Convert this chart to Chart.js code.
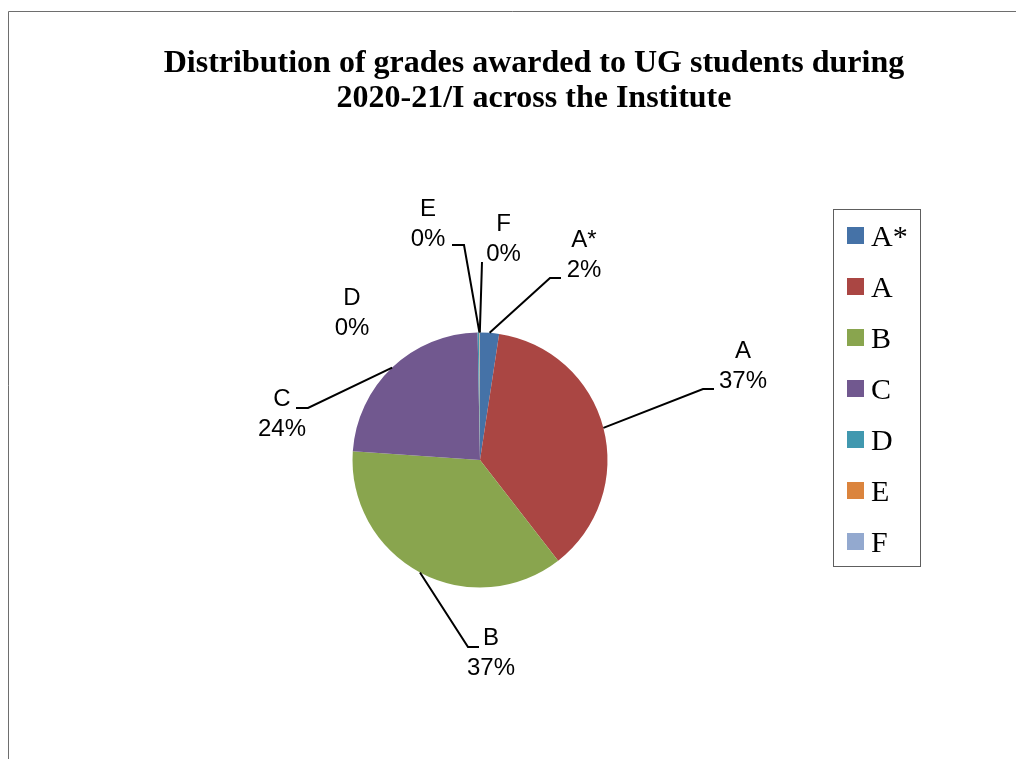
<!DOCTYPE html>
<html>
<head>
<meta charset="utf-8">
<title>Distribution of grades</title>
<script src="https://cdn.jsdelivr.net/npm/chart.js@4.4.0/dist/chart.umd.min.js"></script>
<style>
  html, body { margin: 0; padding: 0; background: #fff; overflow: hidden; }
  canvas { display: block; }
</style>
</head>
<body>
<canvas id="gradeChart" width="1016" height="759"></canvas>
<script>
/** Chart data **/
var titleLines = ['Distribution of grades awarded to UG students during', '2020-21/I across the Institute'];
var grades = ['A*', 'A', 'B', 'C', 'D', 'E', 'F'];
var gradeShares = [2.4, 37.1, 36.6, 23.6, 0.2, 0.06, 0.04];
var gradeColors = ['#4572A7', '#AA4643', '#89A54E', '#71588F', '#4198AF', '#DB843D', '#93A9CF'];

//Where each data label sits, relative to the pie centre:
//[text dx, text dy, leader end dx, leader end dy (from text centre), elbow length]
//null leader means no line is drawn
var labelPlacement = [
	[104, -204.5, -23, 22.5, -11],
	[263, -93.5, -29, 22.5, -11],
	[11, 193, -12, -6, -11],
	[-198, -46, 14, -6, 12],
	[-128, -146.5, null, null, 0],
	[-52, -236, 24, 21, 12],
	[23.5, -221, -21.5, 23, 0]
];

//Frame, title, outside labels and the boxed legend
var decorPlugin = {
	id: 'decor',
	beforeDraw: function(chart) {
		var ctx = chart.ctx;
		ctx.save();
		//only the left and top edges of the frame are in view
		ctx.strokeStyle = '#6e6e6e';
		ctx.lineWidth = 1;
		ctx.beginPath();
		ctx.moveTo(8.5, chart.height);
		ctx.lineTo(8.5, 11.5);
		ctx.lineTo(chart.width, 11.5);
		ctx.stroke();

		ctx.fillStyle = '#000';
		ctx.font = 'bold 32px "Liberation Serif", "Times New Roman", serif';
		ctx.textAlign = 'center';
		ctx.textBaseline = 'alphabetic';
		for (var t = 0; t < titleLines.length; t++) {
			ctx.fillText(titleLines[t], 534, 72 + t * 35);
		}
		ctx.restore();
	},
	afterDraw: function(chart) {
		var ctx = chart.ctx;
		var meta = chart.getDatasetMeta(0);
		var values = chart.data.datasets[0].data;
		var total = 0;
		for (var k = 0; k < values.length; k++) {
			total += values[k];
		}

		ctx.save();
		ctx.fillStyle = '#000';
		ctx.strokeStyle = '#000';
		ctx.lineWidth = 2;
		ctx.font = '24px "Liberation Sans", Arial, sans-serif';
		ctx.textAlign = 'center';
		ctx.textBaseline = 'middle';
		for (var i = 0; i < meta.data.length; i++) {
			var p = meta.data[i].getProps(['x', 'y', 'startAngle', 'endAngle', 'outerRadius'], true);
			var place = labelPlacement[i];
			var lx = p.x + place[0];
			var ly = p.y + place[1];
			var pct = Math.round(values[i] / total * 100);
			ctx.fillText(chart.data.labels[i], lx, ly - 15);
			ctx.fillText(pct + '%', lx, ly + 15);

			if (place[2] !== null) {
				var mid = (p.startAngle + p.endAngle) / 2;
				var sx = p.x + Math.cos(mid) * p.outerRadius;
				var sy = p.y + Math.sin(mid) * p.outerRadius;
				var ex = lx + place[2];
				var ey = ly + place[3];
				ctx.beginPath();
				ctx.moveTo(sx, sy);
				ctx.lineTo(ex + place[4], ey);
				ctx.lineTo(ex, ey);
				ctx.stroke();
			}
		}

		//legend box
		var colors = chart.data.datasets[0].backgroundColor;
		ctx.strokeStyle = '#5e5e5e';
		ctx.lineWidth = 1;
		ctx.strokeRect(833.5, 209.5, 87, 357);
		ctx.font = '30px "Liberation Serif", "Times New Roman", serif';
		ctx.textAlign = 'left';
		ctx.textBaseline = 'alphabetic';
		for (var j = 0; j < chart.data.labels.length; j++) {
			var top = 227 + j * 51;
			ctx.fillStyle = colors[j];
			ctx.fillRect(847, top, 17, 17);
			ctx.fillStyle = '#000';
			ctx.fillText(chart.data.labels[j], 871, top + 19);
		}
		ctx.restore();
	}
};

var ctx = document.getElementById('gradeChart').getContext('2d');
var chart = new Chart(ctx, {
	type: 'pie',
	data: {
		labels: grades,
		datasets: [{
			data: gradeShares,
			backgroundColor: gradeColors,
			borderWidth: 0
		}]
	},
	options: {
		responsive: false,
		animation: false,
		layout: {
			padding: { left: 352.5, right: 408.5, top: 332.5, bottom: 171.5 }
		},
		plugins: {
			legend: { display: false },
			title: { display: false },
			tooltip: { enabled: false }
		}
	},
	plugins: [decorPlugin]
});
</script>
</body>
</html>
